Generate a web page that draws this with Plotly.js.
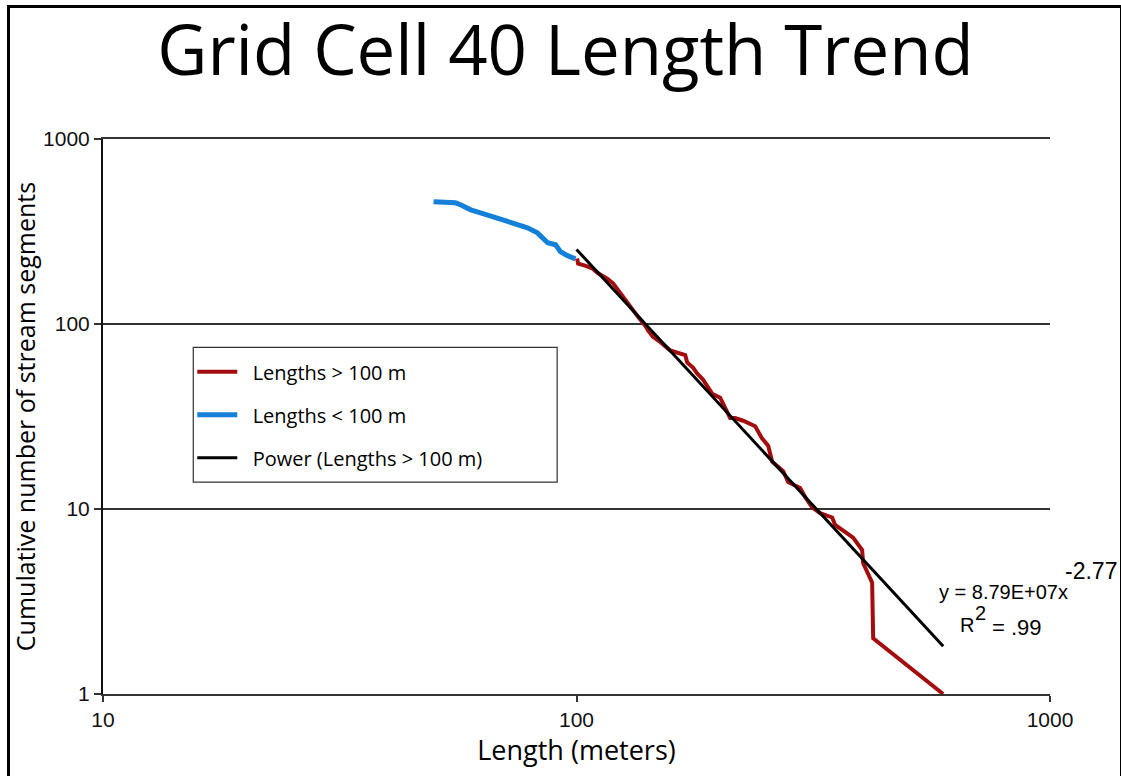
<!DOCTYPE html>
<html>
<head>
<meta charset="utf-8">
<script src="https://cdn.plot.ly/plotly-3.0.1.min.js"></script>
<style>
  html, body { margin: 0; padding: 0; background: #ffffff; }
  #wrap { position: relative; width: 1121px; height: 776px; overflow: hidden; }
  #chart { width: 1121px; height: 776px; }
  #frame { position: absolute; left: 7px; top: 5px; width: 1110px; height: 790px;
           border: 3px solid #000; pointer-events: none; }
</style>
</head>
<body>
<div id="wrap">
  <div id="chart"></div>
  <div id="frame"></div>
</div>
<script>
// ---- data ----
const blueX = [49.9, 55.5, 56.9, 59.8, 62.7, 66.8, 70.8, 75.1, 78.8, 82.7, 84.8, 86.0, 86.9, 90.3, 92.5, 95.7, 99.5];
const blueY = [458, 452, 441, 414, 399, 380, 361, 344, 331, 311, 293, 285, 275, 268, 246, 234, 225];

const redX = [100.3, 100.8, 104.3, 107.9, 111.1, 116.1, 119.5, 122.5, 126.7, 131.1,
              135.0, 139.7, 141.7, 145.2, 150.2, 157.7, 163.2, 169.7, 171.3, 176.4,
              179.8, 185.1, 193.4, 201.1, 204.1, 211.1, 216.3, 224.9, 238.4, 242.0,
              246.7, 254.0, 259.0, 273.3, 279.9, 296.7, 304.0, 314.5, 327.0, 346.7,
              351.8, 383.9, 401.1, 403.0, 421.1, 423.2, 594.8];
const redY = [226, 212, 207, 200, 188, 176, 166, 152, 137, 121,
              109, 98, 92, 85, 80, 72, 70, 68, 62, 58,
              54, 50, 42, 40, 37, 31, 31, 30, 28, 26,
              24, 22, 18, 16, 14, 13, 11.6, 10.2, 9.5, 9.0,
              8.2, 7.0, 6.0, 5.1, 4.0, 2.0, 1.0];

const trendX = [100, 595];
const trendY = [253, 1.81];

const seriesNames = ["Lengths > 100 m", "Lengths < 100 m", "Power (Lengths > 100 m)"];
const xTicks = [10, 100, 1000];
const yTicks = [1, 10, 100, 1000];

const titleText = "Grid Cell 40 Length Trend";
const xTitle = "Length (meters)";
const yTitle = "Cumulative number of stream segments";
const eqText = "y = 8.79E+07x";
const eqExp = "-2.77";
const r2Text = "= .99";

// ---- chart ----
const myriad = "Open Sans, Noto Sans, sans-serif";
const arial = "Liberation Sans, Arial, sans-serif";
const pad = "\u00a0\u00a0";

const traces = [
  { x: redX, y: redY, mode: "lines", name: pad + seriesNames[0], legendgroup: "a",
    line: { color: "#A30D0D", width: 4 } },
  { x: blueX, y: blueY, mode: "lines", name: pad + seriesNames[1], legendgroup: "b",
    line: { color: "#1480D8", width: 5 } },
  { x: trendX, y: trendY, mode: "lines", name: pad + seriesNames[2], legendgroup: "c",
    line: { color: "#000000", width: 3 } }
];

const L = 102.7, R = 1050, T = 138.5, B = 694;
const px = v => (v - L) / (R - L);
const py = v => (B - v) / (B - T);

const layout = {
  width: 1121, height: 776,
  margin: { l: L, r: 1121 - R, t: T, b: 776 - B, pad: 0 },
  paper_bgcolor: "#ffffff", plot_bgcolor: "#ffffff",
  title: { text: titleText, font: { family: myriad, size: 69, color: "#000" },
           xref: "container", x: 0.5045, xanchor: "center",
           yref: "container", y: 0.934, yanchor: "middle" },
  xaxis: {
    type: "log", range: [1, 3], tickvals: xTicks, ticktext: xTicks.map(String),
    showgrid: false, zeroline: false, showline: true, mirror: true, linecolor: "#333", linewidth: 2,
    ticks: "outside", ticklen: 6, tickwidth: 2, tickcolor: "#333",
    tickfont: { family: arial, size: 21, color: "#111" },
    title: { text: xTitle, font: { family: myriad, size: 27, color: "#000" }, standoff: 9 }
  },
  yaxis: {
    type: "log", range: [0, 3], tickvals: yTicks, ticktext: yTicks.map(String),
    showgrid: true, gridcolor: "#333", gridwidth: 1.5, zeroline: false,
    showline: true, linecolor: "#111", linewidth: 2,
    ticks: "outside", ticklen: 7, tickwidth: 2, tickcolor: "#333",
    tickfont: { family: arial, size: 21, color: "#111" },
    title: { text: yTitle, font: { family: myriad, size: 25, color: "#000" }, standoff: 0 }
  },
  showlegend: true,
  legend: {
    x: px(192), y: py(352), xanchor: "left", yanchor: "top",
    bgcolor: "rgba(0,0,0,0)", borderwidth: 0,
    font: { family: myriad, size: 20, color: "#000" },
    traceorder: "grouped", tracegroupgap: 14, itemwidth: 40
  },
  shapes: [
    { type: "rect", xref: "paper", yref: "paper", x0: px(193), x1: px(557), y0: py(482), y1: py(347),
      line: { color: "#333", width: 1.2 }, fillcolor: "rgba(0,0,0,0)", layer: "below" }
  ],
  annotations: [
    { xref: "paper", yref: "paper", x: px(937), y: py(592), xanchor: "left", yanchor: "middle",
      text: eqText, showarrow: false, font: { family: arial, size: 20, color: "#000" } },
    { xref: "paper", yref: "paper", x: px(1063), y: py(571), xanchor: "left", yanchor: "middle",
      text: eqExp, showarrow: false, font: { family: arial, size: 23, color: "#000" } },
    { xref: "paper", yref: "paper", x: px(958), y: py(625), xanchor: "left", yanchor: "middle",
      text: "R", showarrow: false, font: { family: arial, size: 20, color: "#000" } },
    { xref: "paper", yref: "paper", x: px(973), y: py(613), xanchor: "left", yanchor: "middle",
      text: "2", showarrow: false, font: { family: arial, size: 20, color: "#000" } },
    { xref: "paper", yref: "paper", x: px(990), y: py(627), xanchor: "left", yanchor: "middle",
      text: r2Text, showarrow: false, font: { family: arial, size: 22, color: "#000" } }
  ]
};

Plotly.newPlot("chart", traces, layout, { staticPlot: true, displayModeBar: false });
</script>
</body>
</html>
